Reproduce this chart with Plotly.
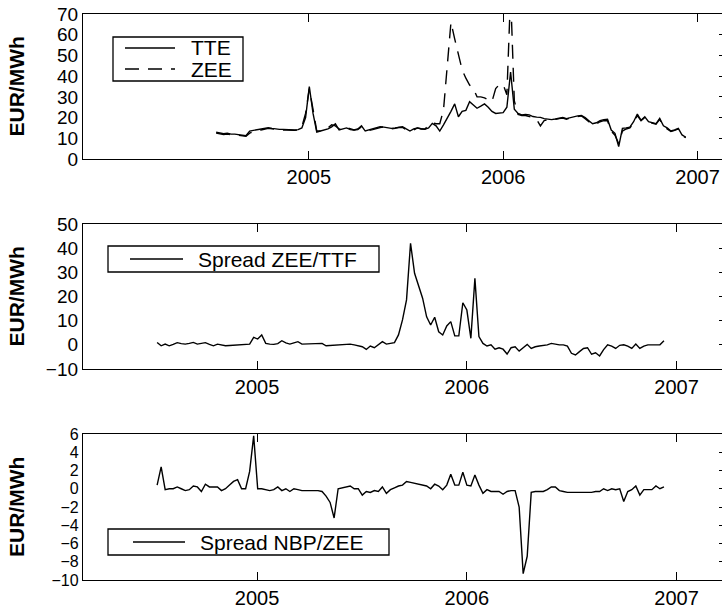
import pandas as pd
import plotly.graph_objects as go

# ---------------- data (weekly, from July 2004) ----------------
start_date = "2004-07-11"

tte = [13.0,12.5,12.2,12.4,12.0,12.0,11.8,11.5,11.2,13.5,
       13.8,14.3,14.5,15.0,15.1,14.8,14.5,14.3,14.3,14.2,
       14.0,14.0,14.2,15.0,20.0,35.0,22.0,13.0,13.5,14.0,
       14.5,15.5,17.0,14.0,14.5,15.0,14.2,14.0,14.5,16.0,
       13.5,14.0,14.5,15.0,15.6,15.4,15.0,14.8,15.0,15.4,
       15.6,14.5,13.5,14.5,15.0,14.6,14.3,15.0,17.2,16.0,
       13.5,16.5,19.6,23.0,26.6,20.4,23.0,23.5,27.7,26.0,
       24.5,25.5,26.6,25.0,23.0,22.0,22.2,22.4,25.0,42.0,
       24.0,22.0,21.3,21.5,21.3,20.5,20.2,20.1,19.5,19.2,
       19.0,19.3,19.6,20.0,19.5,20.0,20.4,20.8,21.0,20.0,
       18.5,17.0,17.5,18.5,19.0,19.2,14.0,12.4,6.0,14.8,
       15.0,15.4,18.0,21.7,18.7,20.4,18.0,17.5,17.0,19.6,
       16.0,15.0,13.5,14.0,14.8,11.6,10.5]

zee = [12.5,12.0,11.8,12.0,11.8,11.6,11.5,11.3,11.0,12.5,
       13.2,13.8,14.0,14.5,14.8,14.6,14.3,14.0,14.0,14.0,
       13.8,13.8,14.0,15.5,22.0,34.0,24.0,13.5,13.5,14.2,
       15.0,16.5,16.0,14.5,14.0,15.2,14.5,14.0,14.2,15.5,
       14.5,13.8,14.2,14.8,15.2,15.5,15.0,14.5,14.8,15.2,
       15.2,14.2,13.8,14.0,15.0,14.5,14.5,16.0,17.5,17.0,
       17.0,23.7,43.0,66.0,58.0,50.0,43.0,39.0,35.7,34.0,
       30.0,30.0,29.5,28.5,27.7,34.0,36.0,36.0,31.0,80.0,
       28.0,21.5,21.0,21.0,20.5,20.0,19.0,16.0,18.5,19.0,
       18.8,19.0,19.5,19.8,19.2,19.8,20.2,20.6,20.8,19.5,
       18.0,16.5,17.0,18.0,18.5,18.5,13.5,11.5,7.5,13.5,
       14.5,15.0,17.5,21.0,18.5,20.0,17.8,17.2,16.8,19.2,
       15.5,14.5,13.3,13.8,14.5,11.4,10.3]

spread_zee_ttf = [1.0,-0.4,0.3,-0.4,0.2,0.9,0.5,0.3,0.6,1.0,
                  0.3,0.5,0.9,0.2,-0.4,0.3,0.0,-0.4,-0.3,-0.2,
                  -0.2,-0.1,0.0,0.3,3.1,2.4,4.1,0.6,0.3,0.2,
                  0.5,1.7,0.8,0.3,0.8,1.3,0.3,0.4,0.5,0.5,
                  0.6,0.6,-0.4,-0.3,-0.3,-0.2,0.0,0.2,0.3,0.0,
                  -0.5,-0.8,-1.9,-0.5,-1.2,0.0,1.3,0.3,0.6,0.9,
                  4.1,10.3,18.6,42.0,29.6,24.8,19.3,11.6,8.2,11.4,
                  5.4,4.1,7.8,9.6,3.7,3.7,17.4,14.4,2.7,27.5,
                  3.4,0.6,-0.5,0.0,-1.8,-1.2,-1.8,-3.8,-1.2,-0.8,
                  -2.6,-1.2,0.2,-1.5,-0.8,-0.5,-0.3,0.0,0.6,0.2,
                  0.0,0.0,-0.5,-3.5,-4.2,-2.8,-1.5,-1.2,-3.9,-3.3,
                  -4.6,-2.0,0.0,-0.5,-1.5,-0.2,0.0,-0.5,-1.5,0.3,
                  -1.5,-0.5,0.0,0.0,0.0,0.0,1.7]

spread_nbp_zee = [0.4,2.4,-0.1,0.0,0.0,0.2,0.0,-0.2,-0.1,0.3,
                  0.2,-0.3,0.5,0.2,0.2,0.2,-0.2,0.0,0.4,0.8,
                  1.0,0.0,0.0,1.9,5.8,0.0,0.0,-0.1,-0.2,-0.1,
                  0.2,-0.2,0.0,-0.3,0.0,-0.1,-0.2,-0.2,-0.2,-0.2,
                  -0.2,-0.3,-0.8,-1.5,-3.2,0.0,0.1,0.2,0.3,0.0,
                  0.0,-0.7,-0.3,-0.4,-0.2,-0.3,0.2,-0.5,-0.1,0.1,
                  0.3,0.4,0.8,0.7,0.6,0.5,0.4,0.3,0.0,0.5,
                  0.3,-0.1,0.4,1.6,0.4,0.4,1.8,0.4,0.3,1.5,
                  0.4,-0.5,-0.1,-0.3,-0.3,-0.3,-0.6,-0.3,-0.2,-0.2,
                  -2.0,-9.3,-7.4,-0.4,-0.3,-0.3,-0.3,-0.1,0.2,0.2,
                  -0.2,-0.3,-0.4,-0.4,-0.4,-0.4,-0.4,-0.4,-0.4,-0.3,
                  -0.3,0.0,-0.2,0.0,-0.1,0.0,-1.4,-0.3,-0.1,0.3,
                  -0.7,-0.1,-0.1,-0.1,0.3,0.0,0.2]

y_ticks_1 = [0, 10, 20, 30, 40, 50, 60, 70]
y_ticks_2 = [-10, 0, 10, 20, 30, 40, 50]
y_ticks_3 = [-10, -8, -6, -4, -2, 0, 2, 4, 6]
year_ticks = ["2005-01-01", "2006-01-01", "2007-01-01"]
year_labels = ["2005", "2006", "2007"]
y_title = "EUR/MWh"

dates = pd.date_range(start_date, periods=len(tte), freq="7D")

# ---------------- layout constants ----------------
FW, FH = 722, 609
ML, MR, MT, MB = 83, 0, 14, 29
PW, PH = FW - ML - MR, FH - MT - MB
FONT = "Liberation Sans, Arial, Helvetica, sans-serif"


def px(x):
    return (x - ML) / PW


def py(y):
    return (FH - MB - y) / PH


dom1 = [py(159), 1.0]
dom2 = [py(369), py(224)]
dom3 = [0.0, py(434)]

line_style = dict(color="black", width=1.4)
dash_style = "14px,9px"

fig = go.Figure()
fig.add_trace(go.Scatter(x=dates, y=tte, mode="lines", name="TTE",
                         line=line_style, xaxis="x", yaxis="y"))
fig.add_trace(go.Scatter(x=dates, y=zee, mode="lines", name="ZEE",
                         line=dict(color="black", width=1.4, dash=dash_style),
                         xaxis="x", yaxis="y"))
fig.add_trace(go.Scatter(x=dates, y=spread_zee_ttf, mode="lines",
                         name="Spread ZEE/TTF", line=line_style,
                         xaxis="x2", yaxis="y2"))
fig.add_trace(go.Scatter(x=dates, y=spread_nbp_zee, mode="lines",
                         name="Spread NBP/ZEE", line=line_style,
                         xaxis="x3", yaxis="y3"))
# empty traces to carry the right-hand tick axes
for xa, ya in (("x", "y4"), ("x2", "y5"), ("x3", "y6")):
    fig.add_trace(go.Scatter(x=[], y=[], xaxis=xa, yaxis=ya, showlegend=False,
                             hoverinfo="skip"))

tickfont = dict(family=FONT, size=20, color="black")


def xaxis(rng, anchor):
    return dict(domain=[0, 1], anchor=anchor, type="date", range=rng,
                tickvals=year_ticks, ticktext=year_labels,
                ticks="inside", ticklen=8, tickwidth=1.2, tickcolor="black",
                showline=True, linecolor="black", linewidth=1.3,
                mirror="ticks", showgrid=False, zeroline=False,
                tickfont=tickfont)


def yaxis(dom, rng, vals, anchor, fsize):
    return dict(domain=dom, anchor=anchor, range=rng, tickvals=vals,
                ticks="", showline=True, linecolor="black", linewidth=1.3,
                showgrid=False, zeroline=False,
                tickfont=dict(family=FONT, size=fsize, color="black"))


def yright(over, rng, vals, anchor):
    return dict(overlaying=over, side="right", anchor=anchor, range=rng,
                tickvals=vals, ticks="inside", ticklen=3, tickwidth=1.2,
                tickcolor="black", showticklabels=False, showline=False,
                showgrid=False, zeroline=False)


rng1 = ["2003-11-04", "2007-02-16"]
rng23 = ["2004-03-04", "2007-03-21"]

fig.update_layout(
    width=FW, height=FH,
    margin=dict(l=ML, r=MR, t=MT, b=MB),
    plot_bgcolor="white", paper_bgcolor="white",
    showlegend=False,
    xaxis=xaxis(rng1, "y"),
    xaxis2=xaxis(rng23, "y2"),
    xaxis3=xaxis(rng23, "y3"),
    yaxis=yaxis(dom1, [0, 70], y_ticks_1, "x", 19),
    yaxis2=yaxis(dom2, [-10, 50], y_ticks_2, "x2", 19),
    yaxis3=yaxis(dom3, [-10, 6], y_ticks_3, "x3", 16),
    yaxis4=yright("y", [0, 70], y_ticks_1, "x"),
    yaxis5=yright("y2", [-10, 50], y_ticks_2, "x2"),
    yaxis6=yright("y3", [-10, 6], y_ticks_3, "x3"),
)

# y-axis titles
for dom in (dom1, dom2, dom3):
    fig.add_annotation(text="<b>" + y_title + "</b>", xref="paper", yref="paper",
                       x=px(16), y=(dom[0] + dom[1]) / 2, textangle=-90,
                       showarrow=False, xanchor="center", yanchor="middle",
                       font=dict(family=FONT, size=21, color="black"))

# boxed keys
legend_font = dict(family=FONT, size=21, color="black")
legends = [
    dict(box=(113, 37, 243, 81),
         items=[("TTE", 48, "solid"), ("ZEE", 69, "dash")],
         line_x=(125, 175), text_x=189),
    dict(box=(108, 246, 379, 272),
         items=[("Spread ZEE/TTF", 259, "solid")],
         line_x=(130, 183), text_x=196),
    dict(box=(108, 529, 389, 555),
         items=[("Spread NBP/ZEE", 542, "solid")],
         line_x=(133, 185), text_x=198),
]
for lg in legends:
    x0, y0, x1, y1 = lg["box"]
    fig.add_shape(type="rect", xref="paper", yref="paper",
                  x0=px(x0), x1=px(x1), y0=py(y1), y1=py(y0),
                  line=dict(color="black", width=1.3), fillcolor="white",
                  layer="above")
    for label, yy, dash in lg["items"]:
        fig.add_shape(type="line", xref="paper", yref="paper",
                      x0=px(lg["line_x"][0]), x1=px(lg["line_x"][1]),
                      y0=py(yy), y1=py(yy),
                      line=dict(color="black", width=1.4,
                                dash=dash_style if dash == "dash" else "solid"),
                      layer="above")
        fig.add_annotation(text=label, xref="paper", yref="paper",
                           x=px(lg["text_x"]), y=py(yy), showarrow=False,
                           xanchor="left", yanchor="middle", font=legend_font)

fig.write_html(
    "out.html",
    config={"displayModeBar": False},
    post_script="document.body.style.margin='0';"
                "document.body.style.overflow='hidden';",
)
